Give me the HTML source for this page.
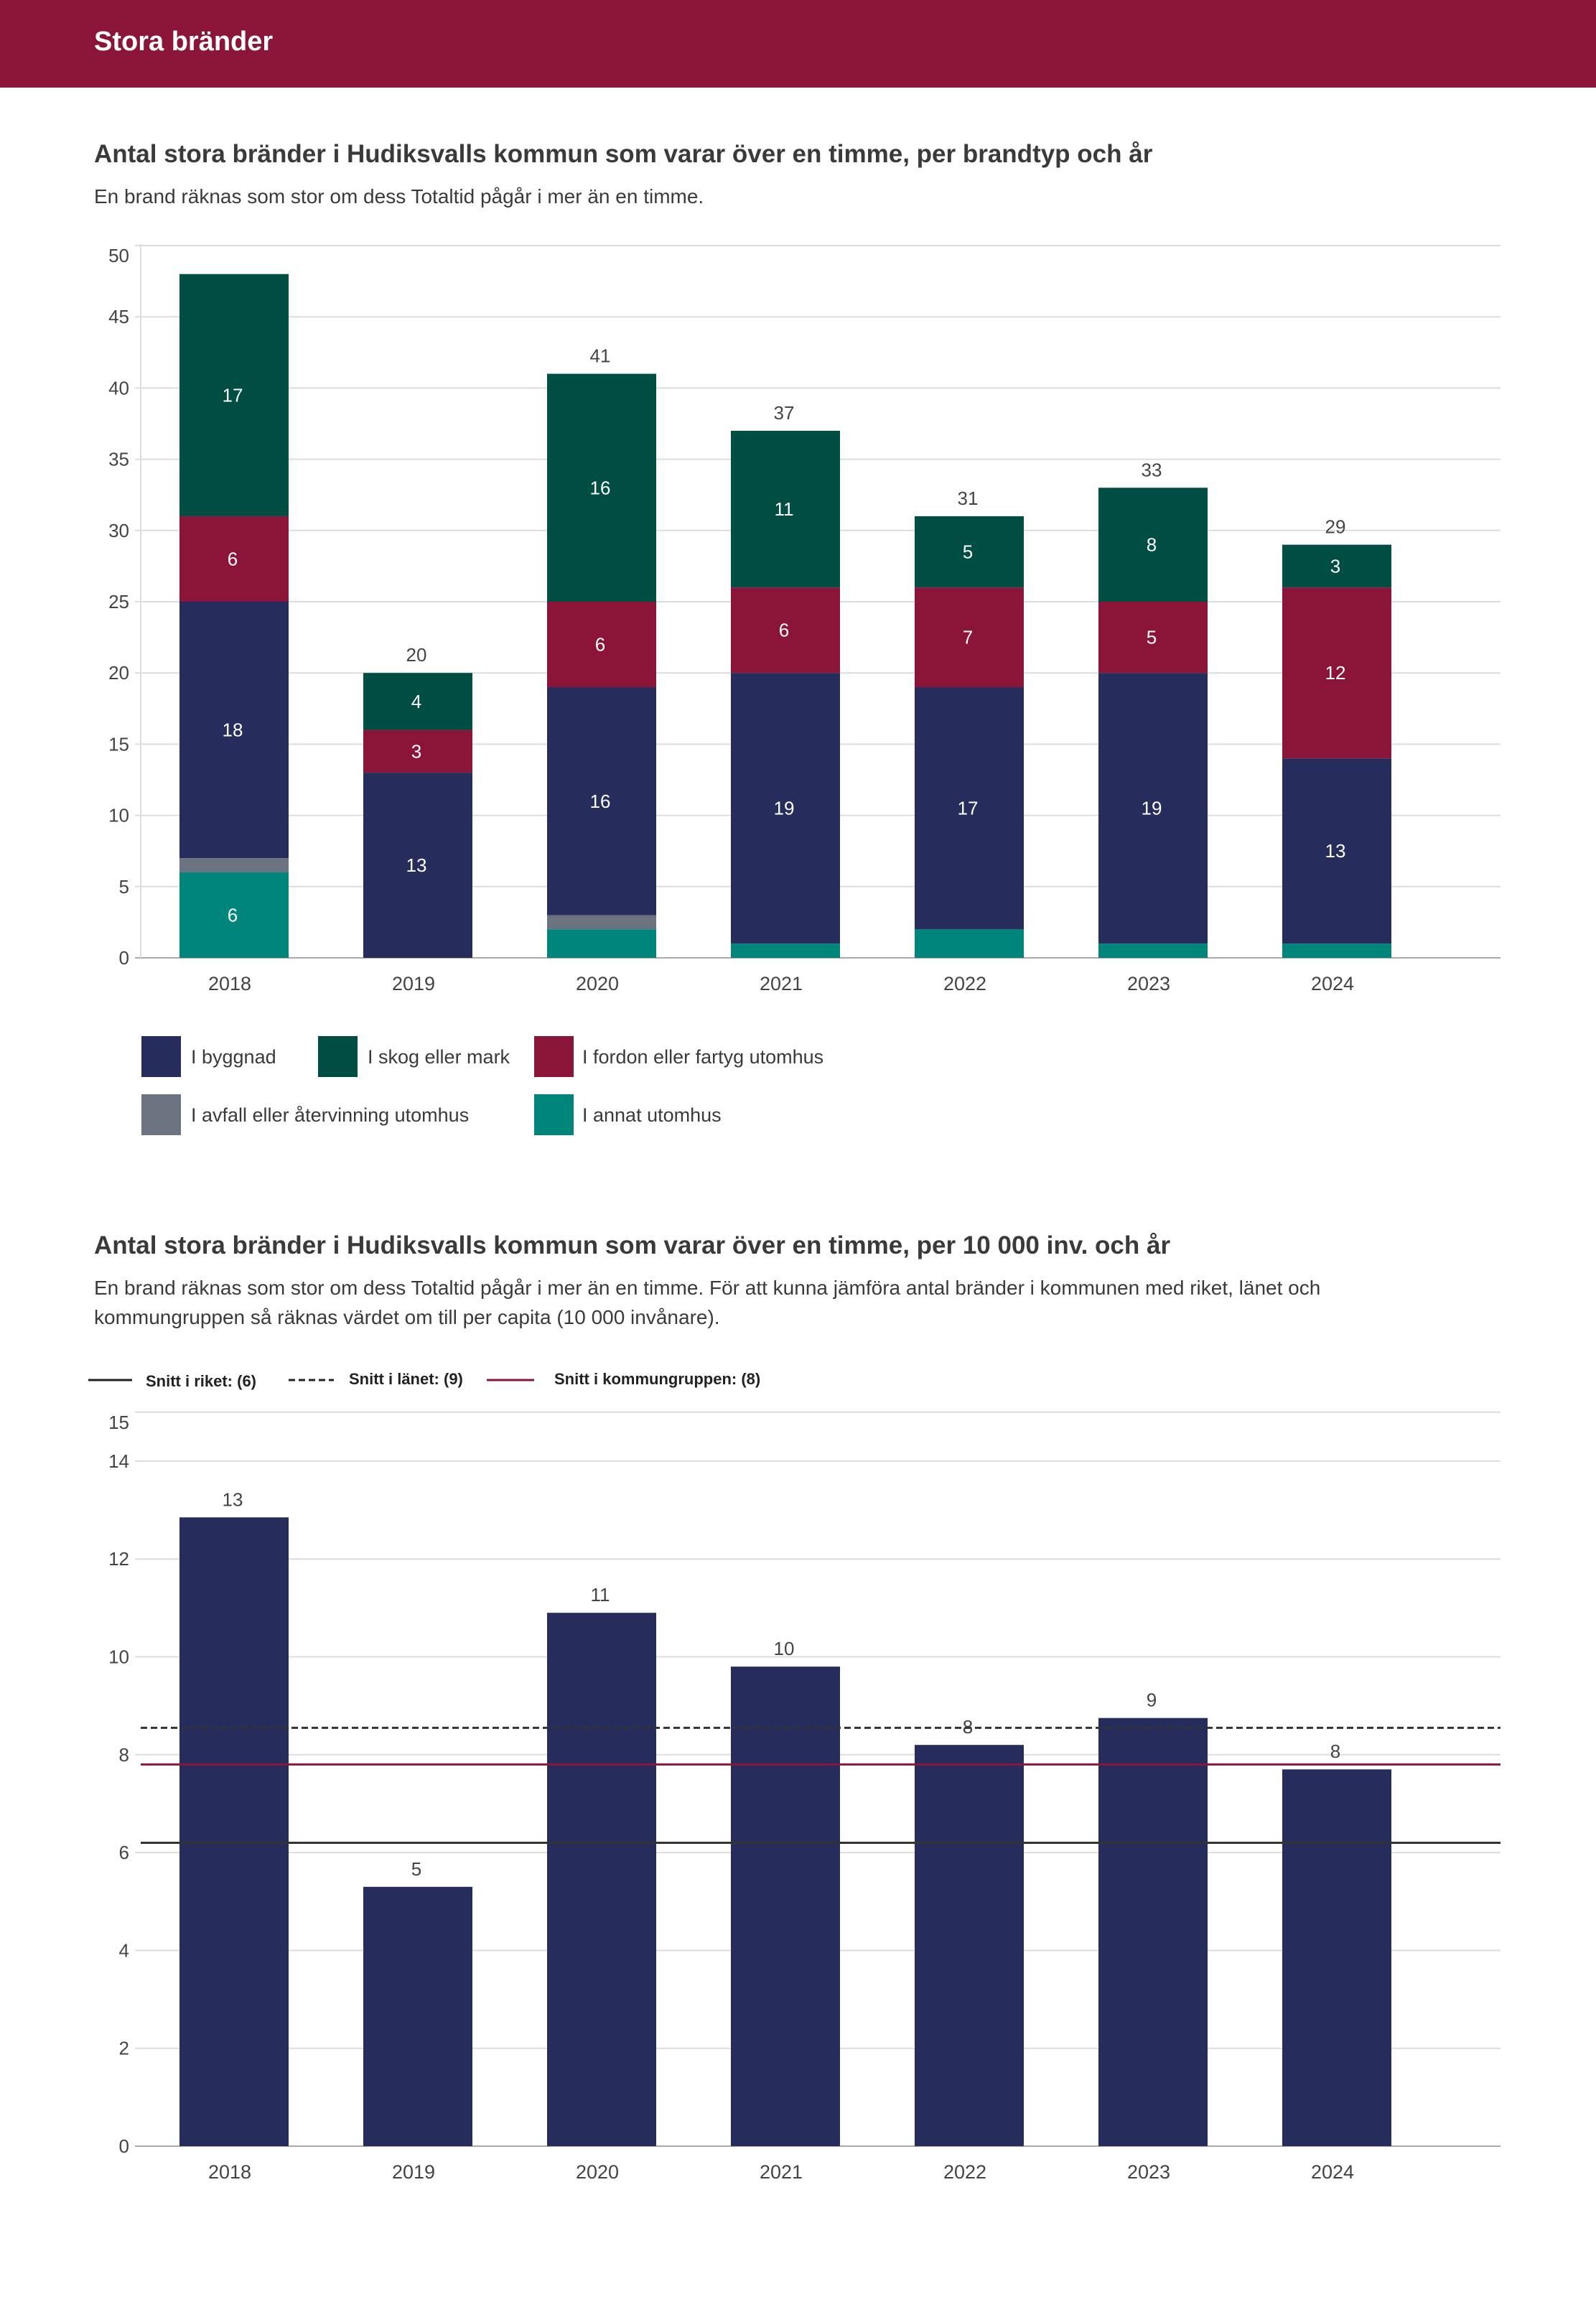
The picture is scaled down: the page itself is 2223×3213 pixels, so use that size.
<!DOCTYPE html>
<html><head><meta charset="utf-8">
<style>
body{margin:0;background:#fff;font-family:"Liberation Sans",sans-serif;color:#3a3a3a}
#page{position:relative;width:2223px;height:3213px;overflow:hidden}
</style></head>
<body>
<div id="page">
<svg id="svg" width="2223" height="3213" xmlns="http://www.w3.org/2000/svg" font-family="Liberation Sans, sans-serif" fill="#3a3a3a">
<rect x="0" y="0" width="2223" height="122" fill="#8b1538"/>
<text x="131" y="70" font-size="38" font-weight="bold" fill="#fff">Stora bränder</text>
<text x="131" y="226" font-size="35" font-weight="bold" fill="#3a3a3a">Antal stora bränder i Hudiksvalls kommun som varar över en timme, per brandtyp och år</text>
<text x="131" y="283" font-size="28" fill="#3a3a3a">En brand räknas som stor om dess Totaltid pågår i mer än en timme.</text>
<g id="c1"></g>
<g>
<rect x="197" y="1443" width="55" height="57" fill="#262d5c"/>
<text x="266" y="1481" font-size="27">I byggnad</text>
<rect x="443" y="1443" width="55" height="57" fill="#004d43"/>
<text x="512" y="1481" font-size="27">I skog eller mark</text>
<rect x="744" y="1443" width="55" height="57" fill="#8b1538"/>
<text x="811" y="1481" font-size="27">I fordon eller fartyg utomhus</text>
<rect x="197" y="1524" width="55" height="57" fill="#6b7380"/>
<text x="266" y="1562" font-size="27">I avfall eller återvinning utomhus</text>
<rect x="744" y="1524" width="55" height="57" fill="#00857a"/>
<text x="811" y="1562" font-size="27">I annat utomhus</text>
</g>
<text x="131" y="1746" font-size="35" font-weight="bold" fill="#3a3a3a">Antal stora bränder i Hudiksvalls kommun som varar över en timme, per 10 000 inv. och år</text>
<text x="131" y="1803" font-size="28" fill="#3a3a3a">En brand räknas som stor om dess Totaltid pågår i mer än en timme. För att kunna jämföra antal bränder i kommunen med riket, länet och</text>
<text x="131" y="1844" font-size="28" fill="#3a3a3a">kommungruppen så räknas värdet om till per capita (10 000 invånare).</text>
<g>
<line x1="123" y1="1922" x2="184" y2="1922" stroke="#222" stroke-width="3"/>
<text x="203" y="1931" font-size="22" font-weight="bold" fill="#222">Snitt i riket: (6)</text>
<line x1="402" y1="1922" x2="465" y2="1922" stroke="#222" stroke-width="3" stroke-dasharray="9,5"/>
<text x="486" y="1928" font-size="22" font-weight="bold" fill="#222">Snitt i länet: (9)</text>
<line x1="678" y1="1922" x2="744" y2="1922" stroke="#8b1538" stroke-width="3"/>
<text x="772" y="1928" font-size="22" font-weight="bold" fill="#222">Snitt i kommungruppen: (8)</text>
</g>
<g id="c2"></g>
</svg>
</div>
<script>
const years = ["2018","2019","2020","2021","2022","2023","2024"];
const byggnad = [18,13,16,19,17,19,13];
const skog = [17,4,16,11,5,8,3];
const fordon = [6,3,6,6,7,5,12];
const avfall = [1,0,1,0,0,0,0];
const annat = [6,0,2,1,2,1,1];
const ticks1 = [0,5,10,15,20,25,30,35,40,45,50];

const perCapita = [12.85,5.3,10.9,9.8,8.2,8.75,7.7];
const perCapitaLabels = ["13","5","11","10","8","9","8"];
const ticks2 = [0,2,4,6,8,10,12,14,15];
const avgRiket = 6.2;
const avgLanet = 8.55;
const avgKommungrupp = 7.8;

const NS = "http://www.w3.org/2000/svg";
function mk(parent, tag, attrs, txt){
  const e = document.createElementNS(NS, tag);
  for (const k in attrs) e.setAttribute(k, attrs[k]);
  if (txt !== undefined) e.textContent = txt;
  parent.appendChild(e);
  return e;
}
const L = 196, R = 2090, band = 256, bw = 152;
function xc(i){ return 326 + i*band; }

// Chart 1
const c1 = document.getElementById('c1');
const y1 = v => 1334 - v*19.84;
const max1 = ticks1[ticks1.length-1];
ticks1.forEach(t=>{
  const g = mk(c1,'line',{x1:L-8,x2:R,y1:y1(t),y2:y1(t),stroke:t===0?'#aaa':'#ddd','stroke-width':2});
  
  
  const off = t===max1 ? 23 : 9;
  const tx = mk(c1,'text',{x:180,y:y1(t)+off,'font-size':26,'text-anchor':'end',fill:'#444'},String(t));
  
  
});
mk(c1,'line',{x1:L,x2:L,y1:y1(50)-2,y2:y1(0),stroke:'#ddd','stroke-width':2});
const series = [
  {name:'annat',vals:annat,color:'#00857a'},
  {name:'avfall',vals:avfall,color:'#6b7380'},
  {name:'byggnad',vals:byggnad,color:'#262d5c'},
  {name:'fordon',vals:fordon,color:'#8b1538'},
  {name:'skog',vals:skog,color:'#004d43'}
];
years.forEach((yr,i)=>{
  let acc = 0;
  series.forEach(s=>{
    const v = s.vals[i];
    if (v>0){
      const r = mk(c1,'rect',{x:xc(i)-bw/2,y:y1(acc+v),width:bw,height:y1(acc)-y1(acc+v),fill:s.color});
      
      
      if (v>=3){
        const t = mk(c1,'text',{x:xc(i)-2,y:(y1(acc)+y1(acc+v))/2+9,'font-size':26,'text-anchor':'middle',fill:'#fff'},String(v));
        
        
      }
    }
    acc += v;
  });
  if (acc < 46){
    const t = mk(c1,'text',{x:xc(i)-2,y:y1(acc)-16,'font-size':26,'text-anchor':'middle',fill:'#444'},String(acc));
    
    
  }
  const xl = mk(c1,'text',{x:xc(i)-6,y:1379,'font-size':27,'text-anchor':'middle',fill:'#444'},yr);
  
  
});

// Chart 2
const c2 = document.getElementById('c2');
const y2 = v => 2989 - v*68.15;
const max2 = ticks2[ticks2.length-1];
ticks2.forEach(t=>{
  const g = mk(c2,'line',{x1:L-8,x2:R,y1:y2(t),y2:y2(t),stroke:t===0?'#aaa':'#ddd','stroke-width':2});
  
  
  const off = t===max2 ? 23 : 9;
  const tx = mk(c2,'text',{x:180,y:y2(t)+off,'font-size':26,'text-anchor':'end',fill:'#444'},String(t));
  
  
});
years.forEach((yr,i)=>{
  const v = perCapita[i];
  const r = mk(c2,'rect',{x:xc(i)-bw/2,y:y2(v),width:bw,height:y2(0)-y2(v),fill:'#262d5c'});
  
  
  const t = mk(c2,'text',{x:xc(i)-2,y:y2(v)-16,'font-size':26,'text-anchor':'middle',fill:'#444'},perCapitaLabels[i]);
  
  
  const xl = mk(c2,'text',{x:xc(i)-6,y:3034,'font-size':27,'text-anchor':'middle',fill:'#444'},yr);
  
  
});
const l1 = mk(c2,'line',{x1:L,x2:R,y1:y2(avgRiket),y2:y2(avgRiket),stroke:'#333','stroke-width':3});


const l2 = mk(c2,'line',{x1:L,x2:R,y1:y2(avgLanet),y2:y2(avgLanet),stroke:'#333','stroke-width':3,'stroke-dasharray':'9,5'});


const l3 = mk(c2,'line',{x1:L,x2:R,y1:y2(avgKommungrupp),y2:y2(avgKommungrupp),stroke:'#8b1538','stroke-width':3});


</script>
</body></html>
